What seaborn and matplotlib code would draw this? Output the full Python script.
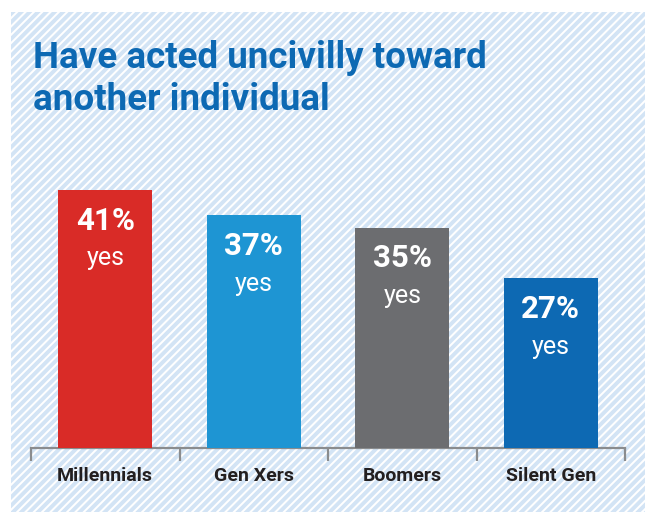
import matplotlib
matplotlib.use("Agg")
import matplotlib.pyplot as plt
import matplotlib.patches as mpatches
import seaborn as sns
import pandas as pd

# Survey results by generation
categories = ["Millennials", "Gen Xers", "Boomers", "Silent Gen"]
values = [41, 37, 35, 27]
bar_colors = ["#D92B27", "#1E95D3", "#6C6D70", "#0D69B3"]
title_text = "Have acted uncivilly toward\nanother individual"
sub_label = "yes"

sns.set_theme(style="white")
plt.rcParams["font.family"] = ["Roboto", "DejaVu Sans"]
plt.rcParams["hatch.linewidth"] = 2.8

df = pd.DataFrame({"group": categories, "pct": values})

fig = plt.figure(figsize=(6.45, 5.12), dpi=100)
fig.patch.set_facecolor("white")

# diagonal-striped panel behind the chart
bg = mpatches.Rectangle((11 / 645, 0), 1 - 11 / 645, 1 - 12 / 512,
                        transform=fig.transFigure, facecolor="white",
                        edgecolor="#D3E4F5", linewidth=0, hatch="////",
                        zorder=-10)
fig.patches.append(bg)

ax = fig.add_axes([31 / 645, 64 / 512, 594 / 645, 315 / 512])
ax.patch.set_alpha(0)

sns.barplot(data=df, x="group", y="pct", hue="group", palette=bar_colors,
            width=0.63, saturation=1, legend=False, ax=ax, zorder=3,
            linewidth=0)

ax.set_xlim(-0.5, len(categories) - 0.5)
ax.set_ylim(0, 50)
ax.set_xlabel("")
ax.set_ylabel("")
ax.set_yticks([])
for s in ["top", "right", "left"]:
    ax.spines[s].set_visible(False)
ax.spines["bottom"].set_color("#8A8C8E")
ax.spines["bottom"].set_linewidth(1.6)

# group separators hanging below the baseline
ax.set_xticks([i - 0.5 for i in range(len(categories) + 1)])
ax.set_xticklabels([])
ax.tick_params(axis="x", direction="out", length=9, width=1.6,
               color="#8A8C8E", bottom=True)
for i, name in enumerate(categories):
    ax.text(i, -4.5, name, ha="center", va="center", fontsize=14,
            fontweight="bold", color="#231F20")

# value labels inside bars
for i, v in enumerate(values):
    ax.text(i, v - 4.9, f"{v}%", ha="center", va="center", fontsize=22.5,
            fontweight="bold", color="white", zorder=5)
    ax.text(i, v - 10.9, sub_label, ha="center", va="center", fontsize=18,
            fontweight="normal", color="white", zorder=5)

fig.text(33 / 645, 1 - 79 / 512, title_text, ha="left", va="center",
         fontsize=26.5, fontweight="bold", color="#0D69B3", linespacing=1.2)

fig.savefig("out.png", dpi=100, facecolor=fig.get_facecolor())
